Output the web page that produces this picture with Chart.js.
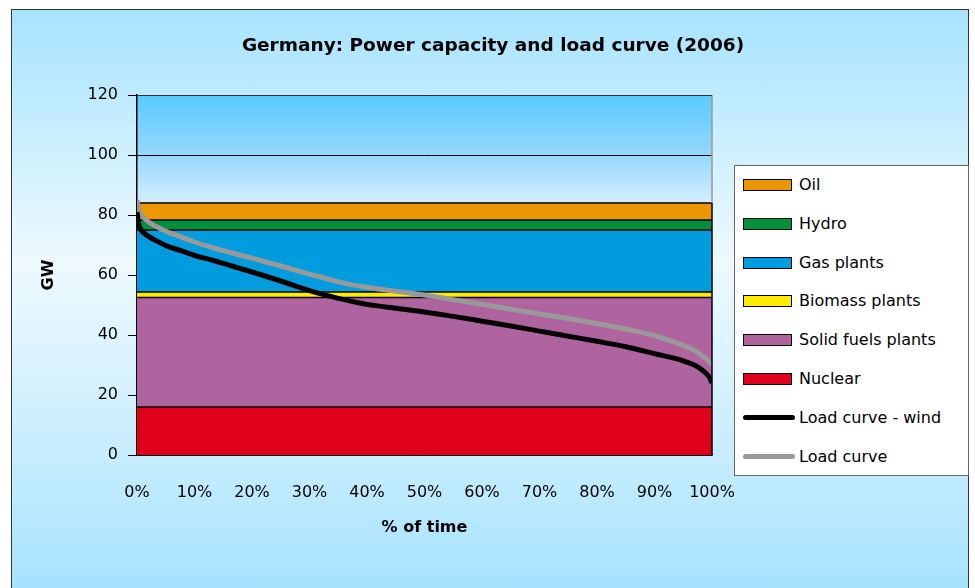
<!DOCTYPE html>
<html lang="en">
<head>
  <meta charset="UTF-8" />
  <title>Germany: Power capacity and load curve (2006)</title>
  <script src="https://cdn.jsdelivr.net/npm/chart.js"></script>
  <style>
    body { margin: 0; background: #fff; font-family: "DejaVu Sans", sans-serif; }
    #frame {
      position: absolute; left: 11px; top: 9px; width: 956px; height: 600px;
      border: 1px solid #333;
      background: linear-gradient(to bottom, #a6e3fe 0%, #eef9ff 42%, #c6ecfe 75%, #9fe1fd 100%);
    }
    #chart { position: absolute; left: 0; top: 0; }
    #title {
      position: absolute; left: 0; width: 986px; top: 34px; text-align: center;
      font-weight: bold; font-size: 18.5px; line-height: 22px; color: #000;
    }
    #legend {
      position: absolute; left: 734px; top: 165px; width: 233px; height: 309px;
      background: #fff; border: 1px solid #666;
    }
    .item { position: absolute; left: 0; height: 20px; font-size: 16px; line-height: 20px; color: #000; }
    .swatch { position: absolute; left: 8px; top: 4px; width: 47px; height: 10px; border: 1px solid #000; }
    .stroke { position: absolute; left: 8px; top: 7px; width: 52px; height: 5px; border-radius: 3px; }
    .label { position: absolute; left: 64px; top: 0; white-space: nowrap; }
  </style>
</head>
<body>
  <div id="frame"></div>
  <canvas id="chart" width="975" height="588"></canvas>
  <div id="title">Germany: Power capacity and load curve (2006)</div>
  <div id="legend"></div>

  <script>
    // installed capacity, GW, stacked from the bottom
    const capacityNames = ['Nuclear', 'Solid fuels plants', 'Biomass plants', 'Gas plants', 'Hydro', 'Oil'];
    const capacityGW = [16, 36.5, 1.8, 20.7, 3.3, 5.7];
    const capacityColors = ['#e1001b', '#b0649f', '#ffec00', '#009cde', '#008f3a', '#ec9600'];

    // load duration curves (% of time -> GW)
    const timePct = [0, 0.3, 0.7, 1.2, 2.3, 3.5, 5, 7.5, 10, 13, 16, 20, 25, 30, 33, 35, 40, 45, 50, 55, 60, 65, 70, 75, 80, 85, 90, 95, 97, 98.5, 99.5, 100];
    const loadWind = [81, 77, 75, 74, 72.5, 71.3, 69.8, 68.2, 66.5, 65, 63.3, 61, 58, 54.8, 53.2, 52.2, 50.2, 48.9, 47.7, 46.2, 44.6, 43, 41.3, 39.6, 37.9, 36.1, 33.8, 31.4, 29.9, 28, 26, 24];
    const loadTotal = [85, 82, 80, 79, 77.3, 76, 74.6, 72.8, 71, 69.2, 67.6, 65.6, 63, 60.3, 58.8, 57.7, 55.9, 54.6, 53.3, 51.8, 50.2, 48.6, 47, 45.5, 43.8, 42, 39.8, 36.5, 34.8, 32.8, 31.2, 30];

    const loadNames = ['Load curve - wind', 'Load curve'];
    const loadColors = ['#000000', '#999999'];

    const yTicks = [0, 20, 40, 60, 80, 100, 120];
    const xTicks = [0, 10, 20, 30, 40, 50, 60, 70, 80, 90, 100];

    Chart.defaults.font.family = '"DejaVu Sans", sans-serif';
    Chart.defaults.color = '#000';

    const datasets = capacityNames.map((name, i) => ({
      label: name,
      data: [{ x: 0, y: capacityGW[i] }, { x: 100, y: capacityGW[i] }],
      stack: 'capacity',
      fill: i === 0 ? 'origin' : '-1',
      backgroundColor: capacityColors[i],
      borderColor: '#000',
      borderWidth: 1.5,
      pointRadius: 0,
      order: 2
    }));

    [loadWind, loadTotal].forEach((series, k) => {
      datasets.push({
        label: loadNames[k],
        data: timePct.map((t, j) => ({ x: t, y: series[j] })),
        stack: 'load' + k,
        fill: false,
        borderColor: loadColors[k],
        borderWidth: 5,
        borderCapStyle: 'butt',
        borderJoinStyle: 'round',
        cubicInterpolationMode: 'monotone',
        pointRadius: 0,
        order: k
      });
    });

    // sky gradient behind the plot and the frame lines on top
    const plotFrame = {
      id: 'plotFrame',
      beforeDraw(chart) {
        const { ctx, chartArea: a } = chart;
        const g = ctx.createLinearGradient(0, a.top, 0, a.bottom);
        g.addColorStop(0, '#58caff');
        g.addColorStop(0.17, '#98d8fc');
        g.addColorStop(0.3, '#d4eefd');
        g.addColorStop(1, '#ffffff');
        ctx.save();
        ctx.fillStyle = g;
        ctx.fillRect(a.left, a.top, a.right - a.left, a.bottom - a.top);
        ctx.restore();
      },
      afterDatasetsDraw(chart) {
        const { ctx, chartArea: a, scales: { y } } = chart;
        const total = capacityGW.reduce((s, v) => s + v, 0);
        ctx.save();
        ctx.lineWidth = 1.5;
        ctx.strokeStyle = '#999';
        ctx.beginPath();
        ctx.moveTo(a.right, a.top);
        ctx.lineTo(a.right, y.getPixelForValue(total));
        ctx.stroke();
        ctx.strokeStyle = '#000';
        ctx.beginPath();
        ctx.moveTo(a.right, y.getPixelForValue(total));
        ctx.lineTo(a.right, a.bottom);
        ctx.stroke();
        ctx.lineWidth = 1;
        ctx.strokeStyle = '#333';
        ctx.beginPath();
        ctx.moveTo(a.left, a.top + 0.5);
        ctx.lineTo(a.right, a.top + 0.5);
        ctx.stroke();
        ctx.restore();
      }
    };

    new Chart(document.getElementById('chart'), {
      type: 'line',
      data: { datasets },
      options: {
        responsive: false,
        animation: false,
        layout: { padding: { left: 11, right: 263, top: 95, bottom: 33 } },
        plugins: {
          legend: { display: false },
          tooltip: { enabled: false }
        },
        scales: {
          x: {
            type: 'linear',
            min: 0,
            max: 100,
            afterBuildTicks: s => { s.ticks = xTicks.map(v => ({ value: v })); },
            ticks: { padding: 28, font: { size: 16 }, callback: v => v + '%', maxRotation: 0 },
            grid: { display: true, drawOnChartArea: false, drawTicks: false },
            border: { display: true, color: '#000', width: 1.5 },
            title: { display: true, text: '% of time', font: { size: 16, weight: 'bold' }, padding: { top: 0, bottom: 18 } },
            afterFit: s => { s.height = 100; }
          },
          y: {
            stacked: true,
            min: 0,
            max: 120,
            afterBuildTicks: s => { s.ticks = yTicks.map(v => ({ value: v })); },
            ticks: { padding: 10, font: { size: 16 } },
            grid: { color: '#000', lineWidth: 1, tickLength: 9, tickColor: '#000' },
            border: { display: true, color: '#000', width: 1.5 },
            title: { display: true, text: 'GW', font: { size: 16, weight: 'bold' }, padding: { top: 28, bottom: 0 } },
            afterFit: s => { s.width = 126; }
          }
        }
      },
      plugins: [plotFrame]
    });

    // legend: capacities top-down, then the two curves
    const legend = document.getElementById('legend');
    const entries = [];
    for (let i = capacityNames.length - 1; i >= 0; i--) entries.push({ name: capacityNames[i], color: capacityColors[i], line: false });
    loadNames.forEach((n, k) => entries.push({ name: n, color: loadColors[k], line: true }));
    entries.forEach((e, i) => {
      const row = document.createElement('div');
      row.className = 'item';
      row.style.top = (9 + i * 38.8) + 'px';
      row.style.width = '100%';
      const mark = document.createElement('div');
      mark.className = e.line ? 'stroke' : 'swatch';
      mark.style.background = e.color;
      const txt = document.createElement('div');
      txt.className = 'label';
      txt.textContent = e.name;
      row.appendChild(mark);
      row.appendChild(txt);
      legend.appendChild(row);
    });
  </script>
</body>
</html>
